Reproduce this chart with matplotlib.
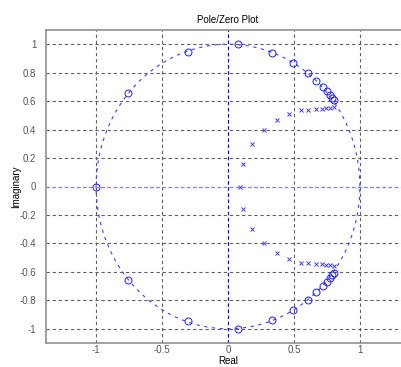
import numpy as np
import matplotlib
matplotlib.use("Agg")
import matplotlib.pyplot as plt

plt.rcParams['font.family'] = ['Liberation Sans', 'DejaVu Sans']

# zeros on the unit circle (upper half; the lower half is the conjugate)
zero_re = [-1.0, -0.76, -0.30, 0.076, 0.33, 0.49, 0.61, 0.67, 0.72, 0.75, 0.77, 0.79, 0.80]
zero_im = [0.0, 0.657, 0.945, 1.0, 0.94, 0.87, 0.80, 0.74, 0.70, 0.67, 0.645, 0.62, 0.61]

# poles (upper half + the real one)
pole_re = [0.09, 0.11, 0.18, 0.27, 0.37, 0.46, 0.55, 0.61, 0.67, 0.71, 0.745, 0.775, 0.80]
pole_im = [0.0, 0.16, 0.30, 0.40, 0.47, 0.51, 0.535, 0.54, 0.545, 0.547, 0.55, 0.552, 0.562]

xticks = [-1, -0.5, 0, 0.5, 1]
yticks = [-1, -0.8, -0.6, -0.4, -0.2, 0, 0.2, 0.4, 0.6, 0.8, 1]


def conj(re, im):
    re2 = list(re) + [r for r, i in zip(re, im) if i != 0]
    im2 = list(im) + [-i for i in im if i != 0]
    return re2, im2


zr, zi = conj(zero_re, zero_im)
pr, pi = conj(pole_re, pole_im)

fig = plt.figure(figsize=(4.02, 3.67), dpi=100)
ax = fig.add_axes([46 / 402, 1 - 343 / 367, 364 / 402, 313 / 367])

dash = (0, (3, 2.5))

ax.set_xlim(-1.38, 1.38)
ax.set_ylim(-1.1, 1.1)
ax.set_xticks(xticks)
ax.set_xticklabels(['-1', '-0.5', '0', '0.5', '1'])
ax.set_yticks(yticks)
ax.set_yticklabels(['-1', '-0.8', '-0.6', '-0.4', '-0.2', '0',
                    '0.2', '0.4', '0.6', '0.8', '1'])
ax.grid(True, color='#606060', linestyle=dash, linewidth=0.8)
ax.set_axisbelow(True)
ax.tick_params(direction='in', length=0, labelsize=7, colors='#555555')
ax.tick_params(axis='x', pad=1.5)
ax.tick_params(axis='y', pad=7)
for s in ax.spines.values():
    s.set_color('#909090')
    s.set_linewidth(1.2)

t = np.linspace(0, 2 * np.pi, 400)
ax.plot(np.cos(t), np.sin(t), color='#4040ff', linestyle=(0, (3, 4)), linewidth=0.8)
# real and imaginary axes, same dash as the grid so they cover it
ax.axhline(0, color='#8080ff', linestyle=dash, linewidth=0.8)
ax.axvline(0, color='#0000ff', linestyle=dash, linewidth=0.8)

ax.plot(zr, zi, 'o', markerfacecolor='none', markeredgecolor='#2020ff',
        markersize=5, markeredgewidth=0.7, linestyle='none')
ax.plot(pr, pi, 'x', color='#4040ff', markersize=3.5, markeredgewidth=0.7,
        linestyle='none')

ax.set_title('Pole/Zero Plot', fontsize=7, pad=5)
ax.set_xlabel('Real', fontsize=7, va='bottom')
ax.set_ylabel('Imaginary', fontsize=7, va='center')
ax.xaxis.set_label_coords((228 - 46) / 364, (343 - 366) / 313)
ax.yaxis.set_label_coords((16 - 46) / 364, 0.5)

fig.savefig('out.png', dpi=100)
